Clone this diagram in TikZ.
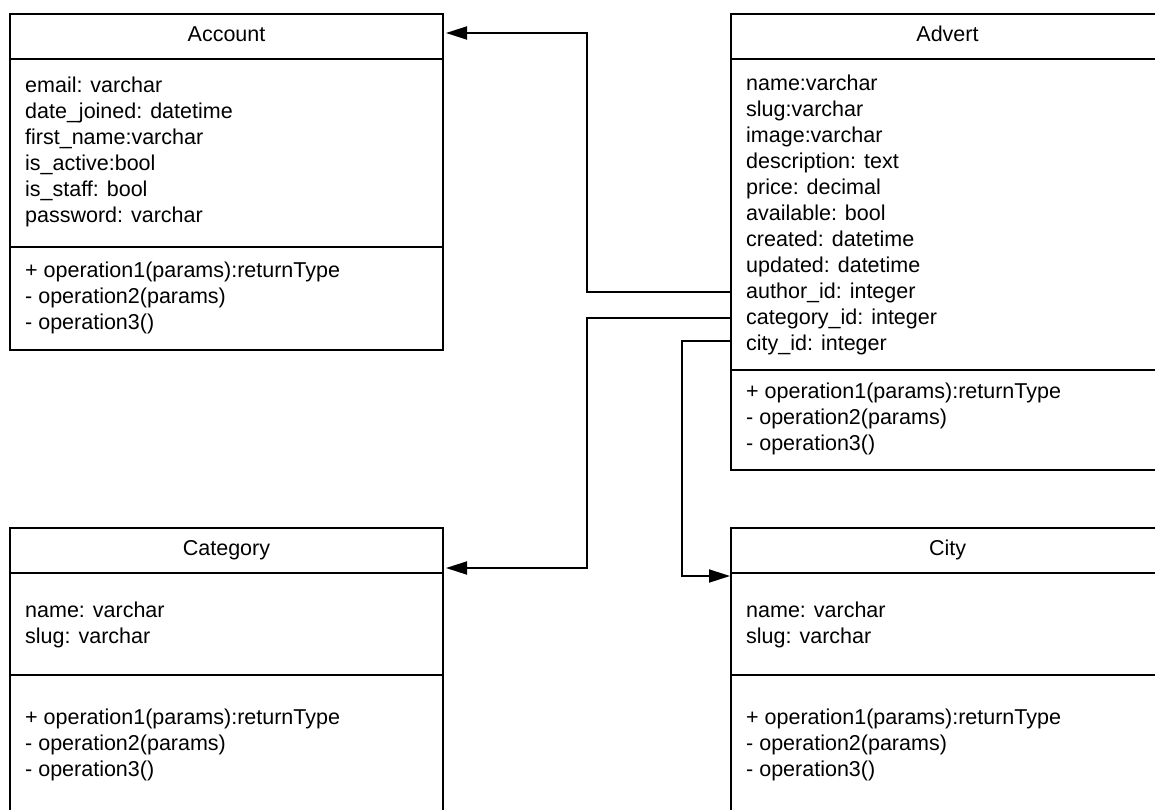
\documentclass[tikz,border=0pt]{standalone}
\usepackage{fontspec}
\setmainfont{Liberation Sans}
\usetikzlibrary{arrows.meta}
\begin{document}
\begin{tikzpicture}[x=1pt,y=-1pt,
  box/.style={draw, line width=1.9pt, anchor=north west, inner sep=0pt, outer sep=0pt},
  ttl/.style={font=\fontsize{21.5}{26}\selectfont, anchor=base, inner sep=0pt},
  txt/.style={font=\fontsize{21.5}{26}\selectfont, anchor=base west, inner sep=0pt},
  conn/.style={line width=1.9pt, -{Triangle[length=21pt,width=13pt]}},
]
\useasboundingbox (0,0) rectangle (1155,809);
\clip (0,0) rectangle (1155,809);

% ---------- Account ----------
\node[box, minimum width=433pt, minimum height=45pt] (acch) at (10,14) {};
\node[box, minimum width=433pt, minimum height=188pt] (acca) at (10,59) {};
\node[box, minimum width=433pt, minimum height=103pt] (acco) at (10,247) {};
\node[ttl] (acct) at (226.5,41) {Account};
\foreach [count=\i] \t in {{email: varchar},{date\_joined: datetime},{first\_name:varchar},{is\_active:bool},{is\_staff: bool},{password: varchar}}
  \node[txt] (accat\i) at (25,{92+26*(\i-1)}) {\t};
\foreach [count=\i] \t in {{+ operation1(params):returnType},{- operation2(params)},{- operation3()}}
  \node[txt] (accot\i) at (25,{277+26*(\i-1)}) {\t};

% ---------- Advert ----------
\node[box, minimum width=460pt, minimum height=45pt] (advh) at (731,14) {};
\node[box, minimum width=460pt, minimum height=311pt] (adva) at (731,59) {};
\node[box, minimum width=460pt, minimum height=100pt] (advo) at (731,370) {};
\node[ttl] (advt) at (947.5,41) {Advert};
\foreach [count=\i] \t in {{name:varchar},{slug:varchar},{image:varchar},{description: text},{price: decimal},{available: bool},{created: datetime},{updated: datetime},{author\_id: integer},{category\_id: integer},{city\_id: integer}}
  \node[txt] (advat\i) at (746,{90+26*(\i-1)}) {\t};
\foreach [count=\i] \t in {{+ operation1(params):returnType},{- operation2(params)},{- operation3()}}
  \node[txt] (advot\i) at (746,{398+26*(\i-1)}) {\t};

% ---------- Category ----------
\node[box, minimum width=433pt, minimum height=45pt] (cath) at (10,528) {};
\node[box, minimum width=433pt, minimum height=102pt] (cata) at (10,573) {};
\node[box, minimum width=433pt, minimum height=160pt] (cato) at (10,675) {};
\node[ttl] (catt) at (226.5,555) {Category};
\foreach [count=\i] \t in {{name: varchar},{slug: varchar}}
  \node[txt] (catat\i) at (25,{617+26*(\i-1)}) {\t};
\foreach [count=\i] \t in {{+ operation1(params):returnType},{- operation2(params)},{- operation3()}}
  \node[txt] (catot\i) at (25,{724+26*(\i-1)}) {\t};

% ---------- City ----------
\node[box, minimum width=460pt, minimum height=45pt] (cith) at (731,528) {};
\node[box, minimum width=460pt, minimum height=102pt] (cita) at (731,573) {};
\node[box, minimum width=460pt, minimum height=160pt] (cito) at (731,675) {};
\node[ttl] (citt) at (947.5,555) {City};
\foreach [count=\i] \t in {{name: varchar},{slug: varchar}}
  \node[txt] (citat\i) at (746,{617+26*(\i-1)}) {\t};
\foreach [count=\i] \t in {{+ operation1(params):returnType},{- operation2(params)},{- operation3()}}
  \node[txt] (citot\i) at (746,{724+26*(\i-1)}) {\t};

% ---------- Connectors ----------
\coordinate (s1) at (adva.west |- 0,292);
\coordinate (s2) at (adva.west |- 0,318);
\coordinate (s3) at (adva.west |- 0,341);
\draw[conn] (s1) -- (587,292) -- (587,33) -- ([xshift=3pt]acch.east |- 0,33);
\draw[conn] (s2) -- (587,318) -- (587,568) -- ([xshift=3pt]cath.east |- 0,568);
\draw[conn] (s3) -- (682,341) -- (682,576) -- ([xshift=-1pt]cith.west |- 0,576);
\end{tikzpicture}
\end{document}
